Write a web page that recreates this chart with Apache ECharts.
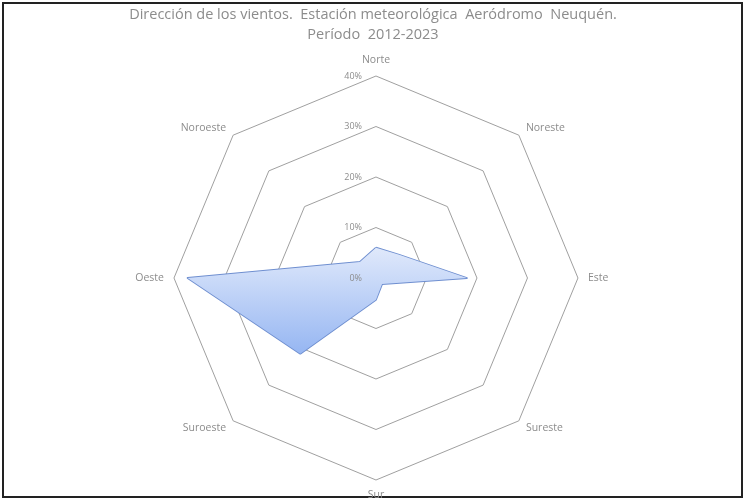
<!DOCTYPE html>
<html>
<head>
<meta charset="utf-8">
<script src="https://cdn.jsdelivr.net/npm/echarts@6/dist/echarts.min.js"></script>
<style>
  html, body { margin: 0; padding: 0; background: #fff; }
  #chart { width: 746px; height: 500px; }
</style>
</head>
<body>
<div id="chart"></div>
<script>
// Wind directions, listed counter-clockwise starting at north
const directions = ['Norte', 'Noroeste', 'Oeste', 'Suroeste', 'Sur', 'Sureste', 'Este', 'Noreste'];
// Share of observations per direction (%)
const frequency = [6.0, 4.5, 37.3, 21.2, 4.3, 1.7, 18.0, 6.5];
// Ring scale
const ringMax = 40;
const ringStep = 10;

const titleText = 'Dirección de los vientos.  Estación meteorológica  Aeródromo  Neuquén.\nPeríodo  2012-2023';

const center = ['50.4%', '55.6%'];
const radius = 202;
const gray = '#8c8c8c';
const font = 'Open Sans';

const chart = echarts.init(document.getElementById('chart'), null, { renderer: 'canvas' });

chart.setOption({
  backgroundColor: '#ffffff',
  animation: false,
  title: {
    text: titleText,
    left: 'center',
    top: 0,
    textStyle: {
      fontFamily: font,
      fontSize: 14.5,
      fontWeight: 'normal',
      color: gray,
      lineHeight: 20
    }
  },
  radar: {
    center: center,
    radius: radius,
    startAngle: 90,
    shape: 'polygon',
    splitNumber: ringMax / ringStep,
    indicator: directions.map(name => ({ name: name, min: 0, max: ringMax })),
    axisName: {
      color: gray,
      fontFamily: font,
      fontSize: 10.5
    },
    nameGap: 10,
    axisLine: { show: false },
    axisTick: { show: false },
    axisLabel: { show: false },
    splitArea: { show: false },
    splitLine: { lineStyle: { color: '#a0a0a0', width: 1 } }
  },
  // Percentage labels along the north axis
  polar: { center: center, radius: radius, z: 10 },
  angleAxis: { type: 'value', startAngle: 90, show: false, min: 0, max: 360 },
  radiusAxis: {
    type: 'value',
    z: 10,
    min: 0,
    max: ringMax,
    interval: ringStep,
    axisLine: { show: false },
    axisTick: { show: false },
    splitLine: { show: false },
    axisLabel: {
      formatter: '{value}%',
      color: gray,
      fontFamily: font,
      fontSize: 9,
      align: 'right',
      verticalAlign: 'middle',
      margin: 14
    }
  },
  graphic: [{
    type: 'rect',
    shape: { x: 3, y: 3, width: 739, height: 494 },
    style: { fill: 'none', stroke: '#222', lineWidth: 2 },
    silent: true
  }],
  series: [{
    type: 'radar',
    symbol: 'none',
    z: 2,
    data: [{
      value: frequency,
      lineStyle: { color: '#6f8fd0', width: 1.8 },
      areaStyle: {
        opacity: 1,
        color: new echarts.graphic.LinearGradient(0, 0, 0, 1, [
          { offset: 0, color: '#e0e9fb' },
          { offset: 1, color: '#96b6f2' }
        ])
      }
    }]
  }]
});
</script>
</body>
</html>
